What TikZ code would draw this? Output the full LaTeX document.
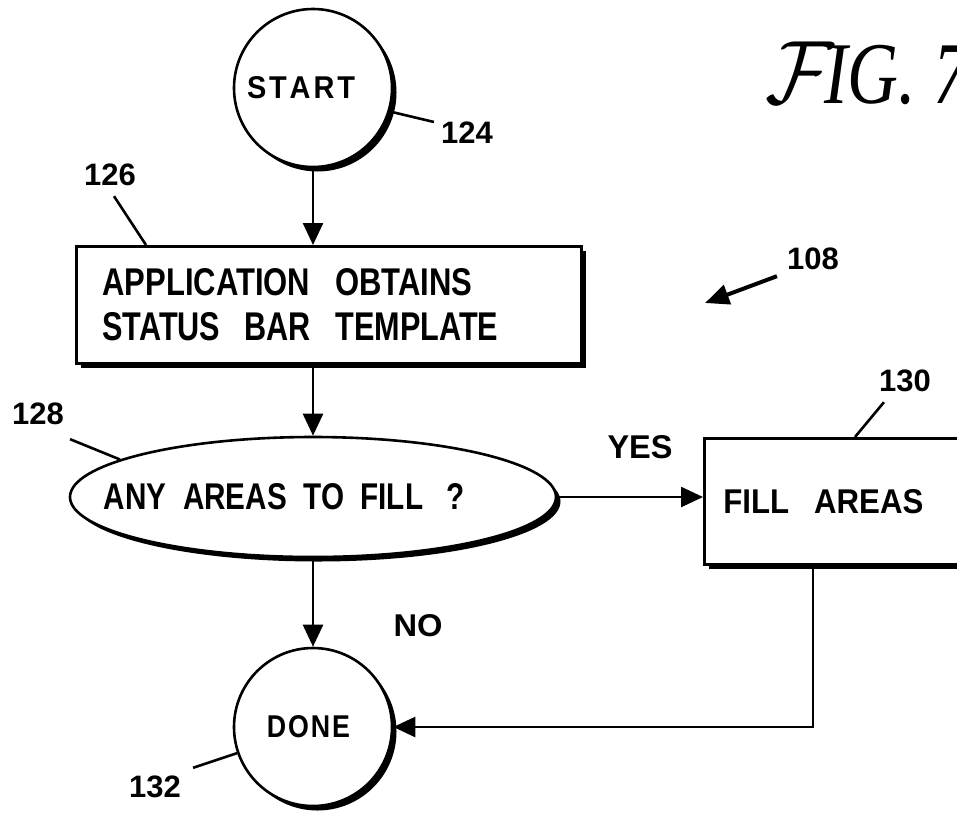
\documentclass[tikz,border=0pt]{standalone}
\usepackage{fontspec}
\usepackage{graphicx}
\usetikzlibrary{shapes.geometric,arrows.meta,shadows}
\newfontfamily\dfont{Liberation Sans}
\newfontfamily\figfont{Liberation Serif}
% text squeezed to a given width and cap height
\newcommand\fittxt[3]{\resizebox{#1}{#2}{\dfont\bfseries #3}}
\newcommand\refno[1]{{\dfont\bfseries\fontsize{31}{31}\selectfont #1}}
\newcommand\wgap{\hspace*{0.8em}}

\begin{document}
\begin{tikzpicture}[x=1pt,y=-1pt,
  outline/.style={draw, line width=2.6pt, fill=white},
  shade/.style={drop shadow={shadow xshift=4.5pt, shadow yshift=-4.5pt, opacity=1, fill=black}},
  flow/.style={line width=2.5pt, -{Triangle[length=22pt,width=20pt]}},
  lead/.style={line width=2.6pt},
  tag/.style={inner sep=0pt},
]
\useasboundingbox (0,0) rectangle (957,814);
\clip (0,0) rectangle (957,814);

% flow chart blocks
\node[outline, shade, circle, minimum size=158pt, inner sep=0pt] (start) at (313,88)
  {\makebox[0pt]{\fittxt{108pt}{22pt}{S\kern1pt T\kern1pt A\kern1pt R\kern1pt T}\hspace*{24pt}}};
\node[outline, shade, rectangle, anchor=north west, text width=453pt, inner xsep=26pt,
      minimum height=117pt, align=left, font=\fontsize{30}{45}\selectfont] (obtain) at (75,245)
  {\fittxt{370pt}{27pt}{APPLICATION\wgap OBTAINS}\\ \fittxt{396pt}{28pt}{STATUS\wgap BAR\wgap TEMPLATE}};
\node[outline, shade, ellipse, minimum width=486pt, minimum height=120pt, inner sep=0pt] (ask) at (313,497)
  {\makebox[0pt]{\fittxt{361pt}{26pt}{ANY\ \ AREAS\ \ TO\ \ FILL\wgap ?}\hspace*{57pt}}};
\node[outline, shade, rectangle, anchor=north west, text width=249pt, inner xsep=19pt,
      minimum height=126pt, align=left] (fill) at (703,437)
  {\fittxt{200pt}{24pt}{FILL\wgap AREAS}};
\node[outline, shade, circle, minimum size=158pt, inner sep=0pt] (done) at (313,727)
  {\makebox[0pt]{\fittxt{83pt}{22pt}{D\kern0.7pt O\kern0.7pt N\kern0.7pt E}\hspace*{9pt}}};

% reference numerals and branch labels
\node[tag] (n124) at (467,133) {\refno{124}};
\node[tag] (n126) at (110,175) {\refno{126}};
\node[tag] (n128) at (38,414) {\refno{128}};
\node[tag] (n130) at (905,381) {\refno{130}};
\node[tag] (n132) at (155,787) {\refno{132}};
\node[tag] (n108) at (813,259) {\refno{108}};
\node[tag] (yes) at (640,447) {\fittxt{65pt}{23pt}{YES}};
\node[tag] (no) at (418,626) {\fittxt{49pt}{22pt}{NO}};
\node[tag, anchor=base west] (fig) at (765,103)
  {\scalebox{0.8}[1]{\scalebox{10.5}[9]{$\mathcal{F}$}\kern-12pt\figfont\itshape\fontsize{88}{88}\selectfont IG. 7}};
\coordinate (c108) at (705,303);

% connectors
\draw[flow] (start.south) -- (start.south |- obtain.north);
\draw[flow] (obtain.south -| ask.north) -- (ask.north);
\draw[flow] (ask.east) -- (fill.west |- ask.east);
\draw[flow] (ask.south) -- (done.north);
\draw[flow] ([xshift=110pt]fill.south west) |- (done.east);

% leader lines
\draw[lead] (start.-17) -- ([xshift=-7pt]n124.north west);
\draw[lead] ([xshift=4pt,yshift=-10pt]n126.south) -- ([xshift=71pt]obtain.north west);
\draw[lead] ([xshift=6pt,yshift=-14pt]n128.south east) -- (ask.169);
\draw[lead] ([xshift=5pt,yshift=-10pt]n130.south west) -- ([xshift=152pt]fill.north west);
\draw[lead] ([xshift=12pt,yshift=8pt]n132.north east) -- (done.199);
\draw[line width=4pt, -{Triangle[length=24pt,width=20pt]}] ([xshift=-10pt,yshift=-6pt]n108.south west) -- (c108);
\end{tikzpicture}
\end{document}
